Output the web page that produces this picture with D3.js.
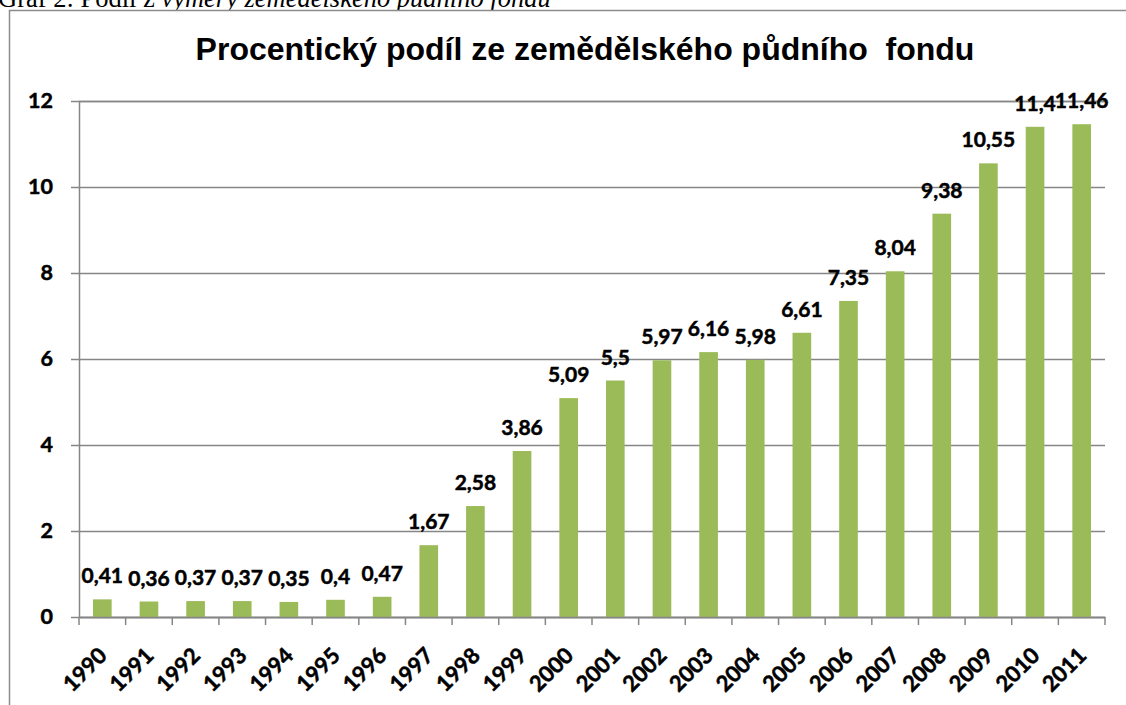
<!DOCTYPE html>
<html>
<head>
<meta charset="utf-8">
<script src="https://cdn.jsdelivr.net/npm/d3@7"></script>
<style>
  body { margin: 0; background: #fff; }
  svg { display: block; }
</style>
</head>
<body>
<div id="vis"></div>
<script>
// chart data
const YEARS = ["1990", "1991", "1992", "1993", "1994", "1995", "1996", "1997", "1998", "1999", "2000",
               "2001", "2002", "2003", "2004", "2005", "2006", "2007", "2008", "2009", "2010", "2011"];
const VALUES = [0.41, 0.36, 0.37, 0.37, 0.35, 0.4, 0.47, 1.67, 2.58, 3.86, 5.09,
                5.5, 5.97, 6.16, 5.98, 6.61, 7.35, 8.04, 9.38, 10.55, 11.4, 11.46];
const Y_TICKS = [0, 2, 4, 6, 8, 10, 12];
const TITLE = "Procentický podíl ze zemědělského půdního\u00a0 fondu";

const FRAME_WIDTH = 1126;
const FRAME_HEIGHT = 705;
const MARGINS = {left: 79, right: 21, top: 101, bottom: 88};

const VIS_WIDTH = FRAME_WIDTH - MARGINS.left - MARGINS.right;
const VIS_HEIGHT = FRAME_HEIGHT - MARGINS.top - MARGINS.bottom;

const FONT = "Lato, 'Open Sans', sans-serif";

const FRAME = d3.select("#vis")
  .append("svg")
    .attr("width", FRAME_WIDTH)
    .attr("height", FRAME_HEIGHT);

// caption above the chart (cut off at the top in the original)
const cap = FRAME.append("text")
  .attr("x", -2)
  .attr("y", 7)
  .attr("font-family", "'Liberation Serif', serif")
  .attr("font-size", "26.5px")
  .attr("fill", "#000");
cap.append("tspan").text("Graf 2: Podíl z ");
cap.append("tspan").attr("font-style", "italic").text("výměry zemědělského půdního fondu");

// chart area border
FRAME.append("rect")
  .attr("x", 9.5)
  .attr("y", 10.5)
  .attr("width", 1140)
  .attr("height", 720)
  .attr("fill", "#fff")
  .attr("stroke", "#8c8c8c")
  .attr("stroke-width", 1.5);

// title
FRAME.append("text")
  .attr("x", 585)
  .attr("y", 60)
  .attr("text-anchor", "middle")
  .attr("font-family", "'Liberation Sans', Arial, sans-serif")
  .attr("font-weight", "bold")
  .attr("font-size", "32px")
  .text(TITLE);

// scales
const X_SCALE = d3.scaleBand()
  .domain(YEARS)
  .range([0, VIS_WIDTH])
  .paddingInner(0.6)
  .paddingOuter(0.3);

const Y_SCALE = d3.scaleLinear()
  .domain([0, 12])
  .range([VIS_HEIGHT, 0]);

const G = FRAME.append("g")
  .attr("transform", "translate(" + MARGINS.left + "," + MARGINS.top + ")");

// make Lato look a bit heavier, like the original's bold labels
function heavy(sel, size) {
  sel.attr("font-family", FONT)
     .attr("font-weight", "bold")
     .attr("font-size", size)
     .attr("fill", "#000")
     .attr("stroke", "#000")
     .attr("stroke-width", 0.5);
}

// gridlines + y axis
const yAxis = G.append("g")
  .call(d3.axisLeft(Y_SCALE).tickValues(Y_TICKS).tickSize(-VIS_WIDTH).tickPadding(26).tickFormat(d3.format("d")));
yAxis.select(".domain").attr("stroke", "#868686").attr("stroke-width", 1.5);
yAxis.selectAll(".tick line")
  .attr("x1", -8)
  .attr("stroke", "#868686")
  .attr("stroke-width", 1.5);
yAxis.selectAll(".tick text").call(heavy, "21.5px");

// bars
G.append("g")
  .selectAll("rect")
  .data(VALUES)
  .enter()
  .append("rect")
    .attr("x", (d, i) => X_SCALE(YEARS[i]))
    .attr("y", (d) => Y_SCALE(d))
    .attr("width", X_SCALE.bandwidth())
    .attr("height", (d) => VIS_HEIGHT - Y_SCALE(d))
    .attr("fill", "#9bbb59");

// x axis with ticks between categories
const xAxis = G.append("g")
  .attr("transform", "translate(0," + VIS_HEIGHT + ")")
  .call(d3.axisBottom(X_SCALE).tickSize(0).tickPadding(0));
xAxis.select(".domain").attr("stroke", "#868686").attr("stroke-width", 1.5);
xAxis.selectAll(".tick text")
  .call(heavy, "22px")
  .attr("text-anchor", "end")
  .attr("dy", 0)
  .attr("transform", "translate(6,40) rotate(-45)");

xAxis.append("g")
  .selectAll("line")
  .data(d3.range(YEARS.length + 1))
  .enter()
  .append("line")
    .attr("x1", (i) => i * VIS_WIDTH / YEARS.length)
    .attr("x2", (i) => i * VIS_WIDTH / YEARS.length)
    .attr("y1", 0)
    .attr("y2", 8)
    .attr("stroke", "#868686")
    .attr("stroke-width", 1.5);

// data labels
G.append("g")
  .selectAll("text")
  .data(VALUES)
  .enter()
  .append("text")
    .attr("x", (d, i) => X_SCALE(YEARS[i]) + X_SCALE.bandwidth() / 2)
    .attr("y", (d) => Y_SCALE(d) - 16)
    .attr("text-anchor", "middle")
    .call(heavy, "21px")
    .text((d) => String(d).replace(".", ","));
</script>
</body>
</html>
